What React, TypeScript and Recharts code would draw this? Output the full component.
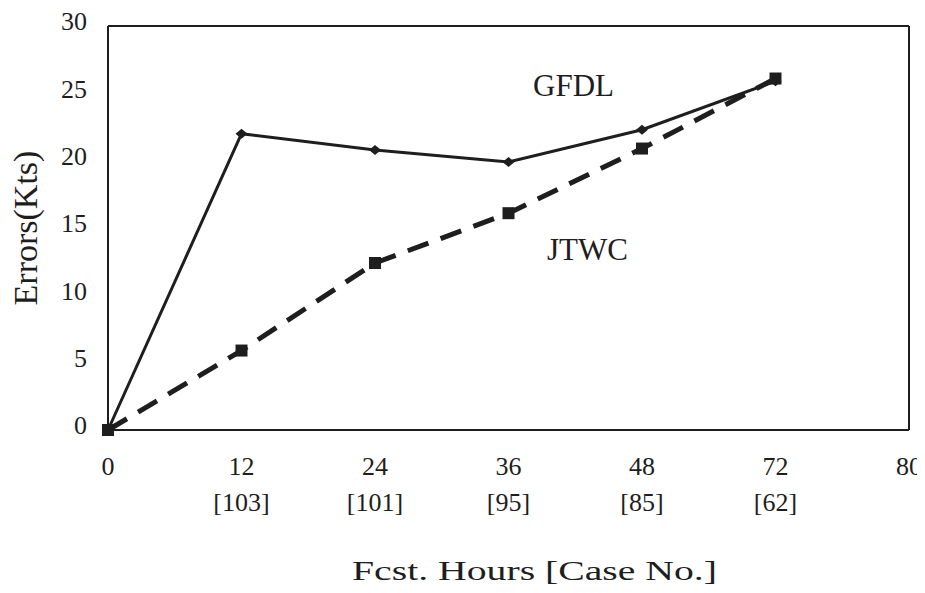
import React from 'react';
import {
  LineChart,
  Line,
  XAxis,
  YAxis,
  ReferenceLine,
  Customized,
} from 'recharts';

const hours = ['0', '12', '24', '36', '48', '72', '80'];
const caseNos = ['', '[103]', '[101]', '[95]', '[85]', '[62]', ''];
const gfdl = [0, 22, 20.8, 19.9, 22.3, 25.9, null];
const jtwc = [0, 5.9, 12.4, 16.1, 20.9, 26.1, null];
const yTicks = [0, 5, 10, 15, 20, 25, 30];

const data = hours.map((h, i) => ({ hour: h, gfdl: gfdl[i], jtwc: jtwc[i] }));

const ink = '#1e1e1e';
const font = '"Liberation Serif", "DejaVu Serif", serif';

const Diamond = (props: any) => {
  const { cx, cy, index } = props;
  if (cx == null || cy == null || index === 0) return <g key={index} />;
  return (
    <polygon
      key={index}
      points={`${cx - 6},${cy} ${cx},${cy - 5} ${cx + 6},${cy} ${cx},${cy + 5}`}
      fill={ink}
    />
  );
};

const Square = (props: any) => {
  const { cx, cy, index } = props;
  if (cx == null || cy == null) return <g key={index} />;
  return <rect key={index} x={cx - 6} y={cy - 6} width={12} height={12} fill={ink} />;
};

const HourTick = (props: any) => {
  const { x, y, payload, index } = props;
  return (
    <g>
      <text x={x} y={y + 45} textAnchor="middle" fontSize={26} fill={ink} fontFamily={font}>
        {payload.value}
      </text>
      <text x={x} y={y + 81} textAnchor="middle" fontSize={26} fill={ink} fontFamily={font}>
        {caseNos[index]}
      </text>
    </g>
  );
};

const Annotations = () => (
  <g fontFamily={font} fill={ink}>
    <text x={525} y={88} fontSize={31}>GFDL</text>
    <text x={539} y={252} fontSize={31}>JTWC</text>
    <text x={29} y={220} fontSize={34} textAnchor="middle" transform="rotate(-90, 29, 220)">
      Errors(Kts)
    </text>
    <text
      x={344}
      y={572}
      fontSize={28}
      textLength={365}
      lengthAdjust="spacingAndGlyphs"
    >
      Fcst.  Hours  [Case  No.]
    </text>
  </g>
);

export default function App() {
  return (
    <div style={{ width: 917, height: 577, overflow: 'hidden' }}>
      <LineChart
        width={917}
        height={577}
        data={data}
        margin={{ top: 18, right: 16, left: 0, bottom: 0 }}
      >
        <XAxis
          dataKey="hour"
          height={155}
          tick={<HourTick />}
          tickLine={false}
          tickSize={0}
          tickMargin={0}
          interval={0}
          axisLine={{ stroke: ink, strokeWidth: 2 }}
        />
        <YAxis
          width={100}
          domain={[0, 30]}
          ticks={yTicks}
          tickLine={false}
          tickSize={0}
          tickMargin={21}
          tick={{ fontSize: 26, fill: ink, fontFamily: font, dy: -5 }}
          axisLine={{ stroke: ink, strokeWidth: 2 }}
        />
        <ReferenceLine y={30} stroke={ink} strokeWidth={2} />
        <ReferenceLine x="80" stroke={ink} strokeWidth={2} />
        <Line
          type="linear"
          dataKey="gfdl"
          stroke={ink}
          strokeWidth={3}
          dot={<Diamond />}
          activeDot={false}
          isAnimationActive={false}
        />
        <Line
          type="linear"
          dataKey="jtwc"
          stroke={ink}
          strokeWidth={5}
          strokeDasharray="22 13"
          dot={<Square />}
          activeDot={false}
          isAnimationActive={false}
        />
        <Customized component={Annotations} />
      </LineChart>
    </div>
  );
}
